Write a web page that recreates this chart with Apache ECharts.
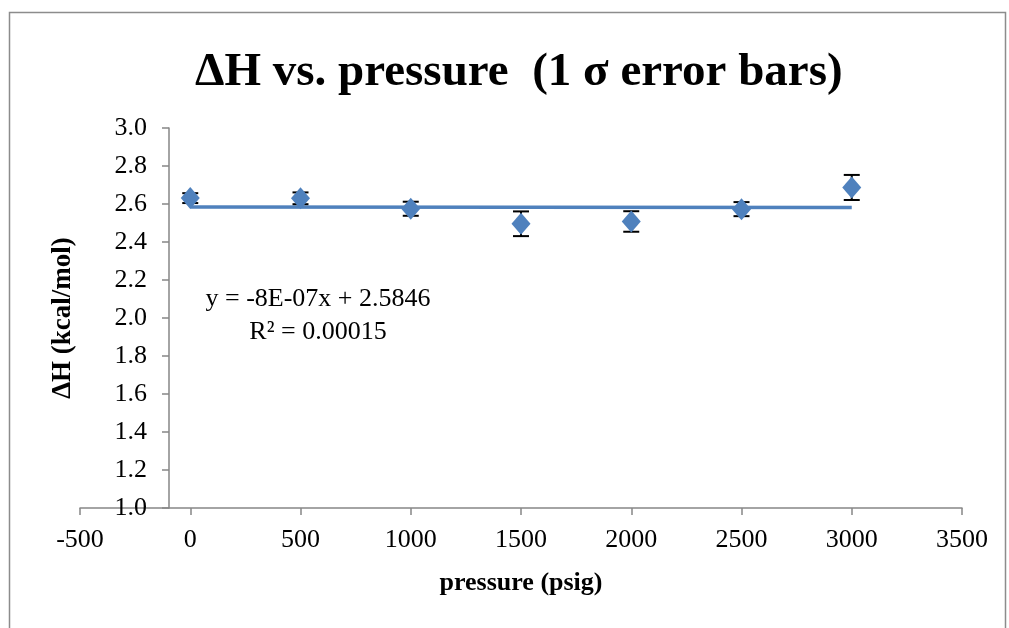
<!DOCTYPE html>
<html>
<head>
<meta charset="utf-8">
<script src="https://cdn.jsdelivr.net/npm/echarts@6/dist/echarts.min.js"></script>
<style>
html,body{margin:0;padding:0;background:#fff;}
#chart{width:1009px;height:628px;}
</style>
</head>
<body>
<div id="chart"></div>
<script>
// Data
var pressure = [0, 500, 1000, 1500, 2000, 2500, 3000];
var deltaH = [2.631, 2.630, 2.575, 2.496, 2.508, 2.573, 2.687];
var sigma = [0.026, 0.031, 0.037, 0.065, 0.054, 0.037, 0.066];
var trendX = [0, 3000];
var trendY = [2.5846, 2.5822];
var titleText = 'ΔH vs. pressure  (1 σ error bars)';
var xName = 'pressure (psig)';
var yName = 'ΔH (kcal/mol)';
var equationLines = ['y = -8E-07x + 2.5846', 'R² = 0.00015'];

var FONT = 'Liberation Serif';
var pts = pressure.map(function (x, i) { return [x, deltaH[i]]; });
var errs = pressure.map(function (x, i) { return [x, deltaH[i] - sigma[i], deltaH[i] + sigma[i]]; });
var trend = trendX.map(function (x, i) { return [x, trendY[i]]; });

var chart = echarts.init(document.getElementById('chart'), null, {renderer: 'canvas'});
chart.setOption({
  animation: false,
  backgroundColor: '#ffffff',
  title: {
    text: titleText,
    left: 190,
    top: 44,
    textStyle: {fontFamily: FONT, fontSize: 47, fontWeight: 'bold', color: '#000'}
  },
  grid: {left: 80, right: 47, top: 128, bottom: 120},
  xAxis: {
    type: 'value', min: -500, max: 3500, interval: 500,
    name: xName, nameLocation: 'middle', nameGap: 62,
    nameTextStyle: {fontFamily: FONT, fontSize: 26, fontWeight: 'bold', color: '#000'},
    axisLine: {onZero: false, lineStyle: {color: '#868686', width: 1.5}},
    axisTick: {show: true, length: 7, lineStyle: {color: '#868686', width: 1.5}},
    axisLabel: {fontFamily: FONT, fontSize: 26, color: '#000', margin: 19,
      formatter: function (v) { return String(v); }},
    splitLine: {show: false}
  },
  yAxis: {
    type: 'value', min: 1.0, max: 3.0, interval: 0.2,
    offset: -89,
    name: yName, nameLocation: 'middle', nameGap: 92, nameRotate: 90,
    nameTextStyle: {fontFamily: FONT, fontSize: 27, fontWeight: 'bold', color: '#000'},
    axisLine: {show: true, onZero: false, lineStyle: {color: '#868686', width: 1.5}},
    axisTick: {show: true, length: 7, lineStyle: {color: '#868686', width: 1.5}},
    axisLabel: {fontFamily: FONT, fontSize: 26, color: '#000', margin: 22,
      formatter: function (v) { return v.toFixed(1); }},
    splitLine: {show: false}
  },
  series: [
    {
      type: 'line', data: trend, symbol: 'none',
      lineStyle: {color: '#4F81BD', width: 3.5}, z: 2
    },
    {
      type: 'custom', data: errs, z: 3,
      renderItem: function (params, api) {
        var x = api.value(0);
        var lo = api.coord([x, api.value(1)]);
        var hi = api.coord([x, api.value(2)]);
        var hw = 8;
        var st = {stroke: '#000', lineWidth: 2};
        return {type: 'group', children: [
          {type: 'line', shape: {x1: lo[0], y1: lo[1], x2: hi[0], y2: hi[1]}, style: st},
          {type: 'line', shape: {x1: lo[0] - hw, y1: lo[1], x2: lo[0] + hw, y2: lo[1]}, style: st},
          {type: 'line', shape: {x1: hi[0] - hw, y1: hi[1], x2: hi[0] + hw, y2: hi[1]}, style: st}
        ]};
      }
    },
    {
      type: 'scatter', data: pts, symbol: 'diamond', symbolSize: [19, 22],
      itemStyle: {color: '#4F81BD', opacity: 1}, z: 4
    }
  ],
  graphic: [
    {type: 'rect', left: 7, top: 10, z: -10, silent: true,
      shape: {width: 996, height: 640},
      style: {fill: 'none', stroke: '#8c8c8c', lineWidth: 1.5}},
    {type: 'text', x: 318, y: 283, z: 10,
      style: {text: equationLines.join('\n'), fontFamily: FONT, fontSize: 26,
        lineHeight: 33, fill: '#000', align: 'center', verticalAlign: 'top'}}
  ]
});
</script>
</body>
</html>
